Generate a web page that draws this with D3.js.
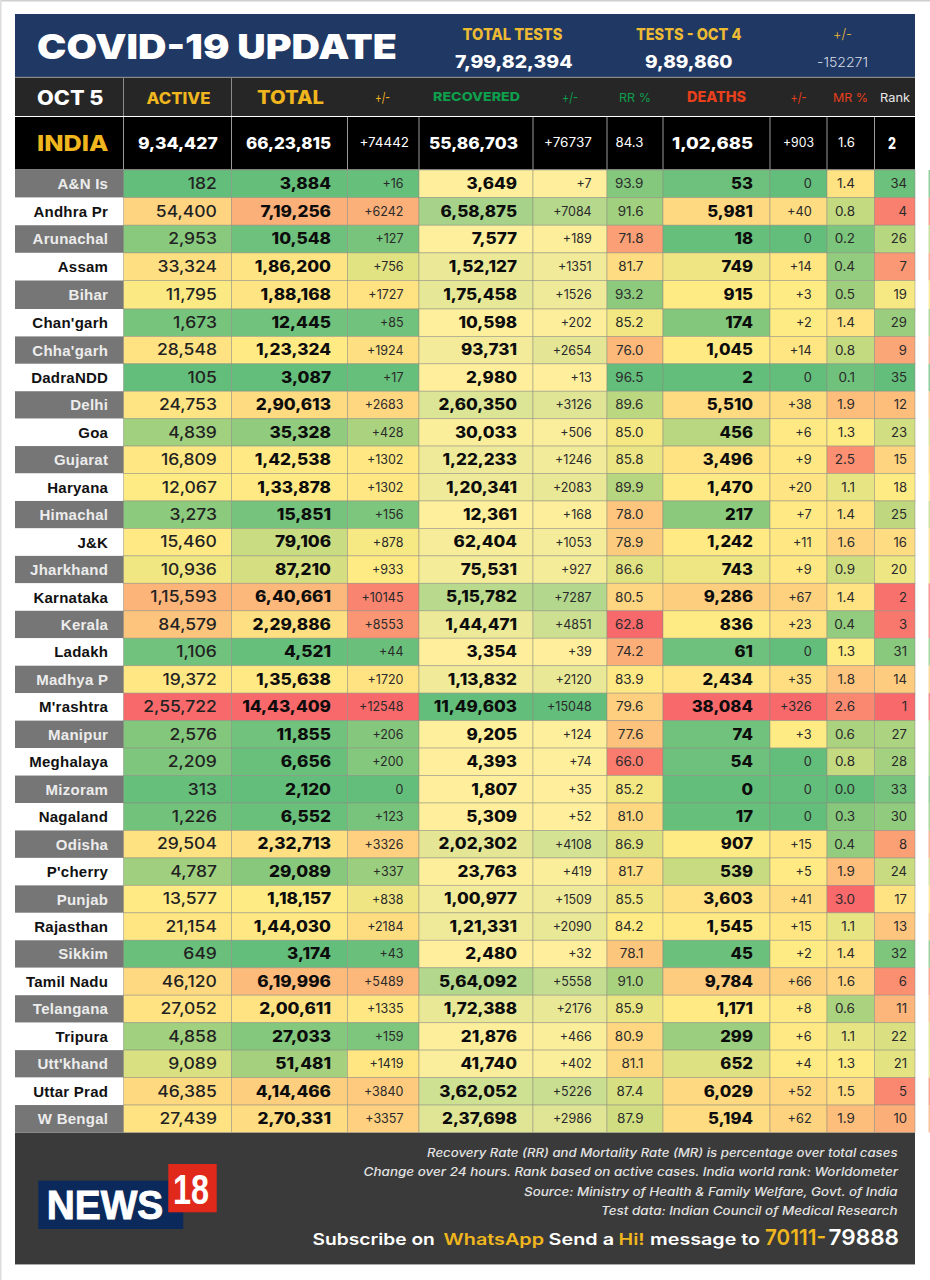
<!DOCTYPE html>
<html><head><meta charset="utf-8">
<script src="https://cdn.jsdelivr.net/npm/d3@7/dist/d3.min.js"></script>
<style>html,body{margin:0;padding:0;background:#fff}svg{display:block}text{font-family:Inter,"Noto Sans",sans-serif}</style>
</head><body><svg id="c" width="930" height="1280"></svg>
<script>
const states=["A&N Is","Andhra Pr","Arunachal","Assam","Bihar","Chan'garh","Chha'garh","DadraNDD","Delhi","Goa","Gujarat","Haryana","Himachal","J&K","Jharkhand","Karnataka","Kerala","Ladakh","Madhya P","M'rashtra","Manipur","Meghalaya","Mizoram","Nagaland","Odisha","P'cherry","Punjab","Rajasthan","Sikkim","Tamil Nadu","Telangana","Tripura","Utt'khand","Uttar Prad","W Bengal"];
const active=[182,54400,2953,33324,11795,1673,28548,105,24753,4839,16809,12067,3273,15460,10936,115593,84579,1106,19372,255722,2576,2209,313,1226,29504,4787,13577,21154,649,46120,27052,4858,9089,46385,27439];
const total=[3884,719256,10548,186200,188168,12445,123324,3087,290613,35328,142538,133878,15851,79106,87210,640661,229886,4521,135638,1443409,11855,6656,2120,6552,232713,29089,118157,144030,3174,619996,200611,27033,51481,414466,270331];
const totalDelta=[16,6242,127,756,1727,85,1924,17,2683,428,1302,1302,156,878,933,10145,8553,44,1720,12548,206,200,0,123,3326,337,838,2184,43,5489,1335,159,1419,3840,3357];
const recovered=[3649,658875,7577,152127,175458,10598,93731,2980,260350,30033,122233,120341,12361,62404,75531,515782,144471,3354,113832,1149603,9205,4393,1807,5309,202302,23763,100977,121331,2480,564092,172388,21876,41740,362052,237698];
const recoveredDelta=[7,7084,189,1351,1526,202,2654,13,3126,506,1246,2083,168,1053,927,7287,4851,39,2120,15048,124,74,35,52,4108,419,1509,2090,32,5558,2176,466,402,5226,2986];
const recoveryRate=[93.9,91.6,71.8,81.7,93.2,85.2,76.0,96.5,89.6,85.0,85.8,89.9,78.0,78.9,86.6,80.5,62.8,74.2,83.9,79.6,77.6,66.0,85.2,81.0,86.9,81.7,85.5,84.2,78.1,91.0,85.9,80.9,81.1,87.4,87.9];
const deaths=[53,5981,18,749,915,174,1045,2,5510,456,3496,1470,217,1242,743,9286,836,61,2434,38084,74,54,0,17,907,539,3603,1545,45,9784,1171,299,652,6029,5194];
const deathsDelta=[0,40,0,14,3,2,14,0,38,6,9,20,7,11,9,67,23,0,35,326,3,0,0,0,15,5,41,15,2,66,8,6,4,52,62];
const mortalityRate=[1.4,0.8,0.2,0.4,0.5,1.4,0.8,0.1,1.9,1.3,2.5,1.1,1.4,1.6,0.9,1.4,0.4,1.3,1.8,2.6,0.6,0.8,0.0,0.3,0.4,1.9,3.0,1.1,1.4,1.6,0.6,1.1,1.3,1.5,1.9];
const rank=[34,4,26,7,19,29,9,35,12,23,15,18,25,16,20,2,3,31,14,1,27,28,33,30,8,24,17,13,32,6,11,22,21,5,10];
const india=[934427,6623815,74442,5586703,76737,84.3,102685,903,1.6,2];

const GREEN="#63BE7B",YEL="#FFEB84",RED="#F8696B",PALE="#FFEF9C",GOLD="#F0B61E";
const inr=d3.formatLocale({decimal:".",thousands:",",grouping:[3,2],currency:["",""]}).format(",");
const delta=v=>v>0?"+"+v:"0", dec=d3.format(".1f"), plain=d3.format("d");
const med3=a=>[d3.min(a),d3.median(a),d3.max(a)];
const hiGood=a=>d3.scaleLinear().domain(med3(a)).range([GREEN,YEL,RED]);
const loGood=a=>d3.scaleLinear().domain(med3(a)).range([RED,YEL,GREEN]);
const two=a=>d3.scaleLinear().domain(d3.extent(a)).range([PALE,GREEN]);

const edges=[15,123.5,231.5,347.5,419,533,607,663,770,827,874.5,915];
const keys=["label","active","total","totalDelta","recovered","recoveredDelta","rr","deaths","deathsDelta","mr","rank"];
const xL=d3.scaleOrdinal(keys,edges.slice(0,-1)), xR=d3.scaleOrdinal(keys,edges.slice(1));
// row edges of the source table are slightly uneven, so the row scale is piecewise
const rowY=d3.scaleLinear().domain([0,4,5,11,states.length]).range([170,280.5,309,473.5,1132.5]);
const yTop=(d,i)=>rowY(i), yH=(d,i)=>rowY(i+1)-rowY(i);

const cols=[
 {k:"active",v:active,f:inr,c:hiGood(active),size:15.5,w:500,sx:1.13,pad:14.6,fill:"#222"},
 {k:"total",v:total,f:inr,c:hiGood(total),size:15.5,w:800,sx:1.11,pad:16.5,fill:"#0c0c0c"},
 {k:"totalDelta",v:totalDelta,f:delta,c:hiGood(totalDelta),size:12.5,w:400,sx:1,pad:15.5,fill:"#2a2a2a"},
 {k:"recovered",v:recovered,f:inr,c:two(recovered),size:15.5,w:800,sx:1.1,pad:16,fill:"#0c0c0c"},
 {k:"recoveredDelta",v:recoveredDelta,f:delta,c:two(recoveredDelta),size:12.5,w:400,sx:1,pad:15.3,fill:"#2a2a2a"},
 {k:"rr",v:recoveryRate,f:dec,c:loGood(recoveryRate),size:12.5,w:400,sx:1.08,pad:19.5,fill:"#2a2a2a"},
 {k:"deaths",v:deaths,f:inr,c:hiGood(deaths),size:15.5,w:800,sx:1.08,pad:17,fill:"#0c0c0c"},
 {k:"deathsDelta",v:deathsDelta,f:delta,c:d3.scaleLinear().domain([0,2,326]).range([GREEN,YEL,RED]),size:12.5,w:400,sx:1.02,pad:15.3,fill:"#2a2a2a"},
 {k:"mr",v:mortalityRate,f:dec,c:hiGood(mortalityRate),size:12.5,w:400,sx:1.08,pad:19.5,fill:"#2a2a2a"},
 {k:"rank",v:rank,f:plain,c:loGood(rank),size:12.5,w:400,sx:1.05,pad:8,fill:"#2a2a2a"}
];

const svg=d3.select("#c");
const rect=(x,y0,w,h,fill)=>svg.append("rect").attr("x",x).attr("y",y0).attr("width",w).attr("height",h).attr("fill",fill);
const txt=(s,x,yy,o={})=>{const t=svg.append("text").attr("x",x).attr("y",yy).text(s)
 .attr("fill",o.fill||"#fff").attr("font-size",o.size||12).attr("font-weight",o.w||400);
 if(o.len){t.attr("textLength",o.len).attr("lengthAdjust","spacingAndGlyphs");}
 if(o.italic)t.attr("font-style","italic");
 return t;};
const span=(s,x0,x1,yy,o)=>txt(s,x0,yy,{...o,len:x1-x0});

// page edges
rect(0,0,930,1.5,"#cfcfcf");rect(0,0,1.5,1280,"#dcdcdc");
// right bleed strip
svg.append("g").selectAll("rect").data(rank).join("rect").attr("x",928.5).attr("width",1.5)
 .attr("y",yTop).attr("height",yH).attr("fill",d=>loGood(rank)(d)).attr("opacity",.75);

// header panels
rect(15,14,900,63,"#1F3864");rect(15,78,900,38,"#262626");rect(15,117,900,52.5,"#000");rect(15,1132.5,900,132,"#3A3A3A");
rect(15,1264,900,1,"#a9a9a9");

// titles
span("COVID-19 UPDATE",37,397,58.5,{size:34.5,w:900});
span("TOTAL TESTS",462.6,562.5,40,{size:16,w:800,fill:"#EDBB33"});
span("7,99,82,394",455,572.5,67.5,{size:17.5,w:800});
span("TESTS - OCT 4",636,741.5,40,{size:16,w:800,fill:"#EDBB33"});
span("9,89,860",645,732.5,67.5,{size:17.5,w:800});
span("+/-",833,852,38.5,{size:14,w:300,fill:"#EDBB33"});
span("-152271",817,868,66.5,{size:13.5,w:300,fill:"#d8dbe3"});

// column head row
[123.5,231.5].forEach(x=>rect(x-.5,78,1,38,"#8a8a8a"));
rect(15,76.8,900,1.2,"#8a8a8a");
span("OCT 5",37,103.5,104.5,{size:20,w:800});
span("ACTIVE",146.5,210.5,103.5,{size:15.5,w:800,fill:GOLD});
span("TOTAL",257,324,104,{size:18.5,w:800,fill:GOLD});
span("+/-",375,390,102,{size:13.5,fill:GOLD});
span("RECOVERED",433,520,101,{size:12,w:800,fill:"#0E9F4D"});
span("+/-",562,578,102,{size:13.5,fill:"#0E9F4D"});
span("RR %",619,651,101.5,{size:11.5,fill:"#0E9F4D"});
span("DEATHS",687,746,102,{size:14.5,w:800,fill:"#E8401C"});
span("+/-",790.6,806.6,102,{size:13.5,fill:"#E8401C"});
span("MR %",833,868,101.5,{size:11.5,fill:"#E8401C"});
span("Rank",880,910,101.5,{size:11.5,fill:"#e6e6e6"});

// India row
keys.slice(0,-1).forEach(k=>{rect(xR(k)-.5,117,1,52.5,"#9a9a9a");});
span("INDIA",37,108.5,151,{size:22,w:800,fill:GOLD});
const indiaText=[inr,inr,delta,inr,delta,dec,inr,delta,dec,plain];
const indiaPos=[[138,217.7,1],[246,331,1],[359.4,409,0],[429,518,1],[544,592,0],[615.6,643.5,0],[672,753,1],[783,814,0],[838,855,0],[888,896,1]];
india.forEach((v,i)=>{const p=indiaPos[i];span(indiaText[i](v),p[0],p[1],p[2]?148.8:147,{size:p[2]?16:12.5,w:p[2]?800:400});});

// state labels
const labelX=xR("label")-15.3;
svg.append("g").selectAll("rect").data(states).join("rect").attr("x",xL("label")).attr("width",xR("label")-xL("label")+.5)
 .attr("y",yTop).attr("height",yH).attr("fill",(d,i)=>i%2?"#fff":"#767676");
svg.append("g").selectAll("text").data(states).join("text").attr("x",labelX).attr("y",(d,i)=>rowY(i)+19.2)
 .attr("text-anchor","end").attr("font-size",15).attr("font-weight",700).attr("letter-spacing",.25)
 .style("font-family","'Liberation Sans',Arial,sans-serif").attr("fill",(d,i)=>i%2?"#111":"#ececec").text(d=>d);

// data cells
cols.forEach(col=>{
 const g=svg.append("g");
 const x0=xL(col.k),x1=xR(col.k),right=x1-col.pad;
 g.selectAll("rect").data(col.v).join("rect").attr("x",x0).attr("width",x1-x0)
  .attr("y",yTop).attr("height",yH)
  .attr("fill",d=>col.c(d)).attr("stroke","rgba(140,140,130,.6)").attr("stroke-width",.8);
 const big=col.size>14;
 g.selectAll("text").data(col.v).join("text").attr("text-anchor","end")
  .attr("transform",(d,i)=>`translate(${right},${rowY(i)+(big?19:18.2)}) scale(${col.sx},1)`)
  .attr("font-size",col.size).attr("font-weight",col.w).attr("fill",col.fill).text(d=>col.f(d));
});

// logo
rect(38.3,1180.7,145,48.3,"#0B2A5B");rect(168.3,1164,48.4,48.3,"#E1291B");
svg.append("text").attr("x",46.7).attr("y",1219).attr("font-size",40).attr("font-weight",700).attr("fill","#fff")
 .attr("stroke","#fff").attr("stroke-width",.9)
 .attr("textLength",116.6).attr("lengthAdjust","spacingAndGlyphs").style("font-family","'Liberation Sans',Arial").text("NEWS");
svg.append("text").attr("x",173).attr("y",1204).attr("font-size",42).attr("font-weight",700).attr("fill","#fff")
 .attr("textLength",36).attr("lengthAdjust","spacingAndGlyphs").style("font-family","'Liberation Sans',Arial").text("18");

// footer notes
const noteO={size:11.5,w:500,fill:"#e2e2e2",italic:true};
span("Recovery Rate (RR) and Mortality Rate (MR) is percentage over total cases",427,897.5,1157,noteO);
span("Change over 24 hours. Rank based on active cases. India world rank: Worldometer",363.6,898,1176,noteO);
span("Source: Ministry of Health & Family Welfare, Govt. of India",524,897.5,1196,noteO);
span("Test data: Indian Council of Medical Research",601,897.5,1215,noteO);
const subO={size:16,w:600};
span("Subscribe on",312.6,434.8,1244.5,subO);
span("WhatsApp",443.6,544,1244.5,{...subO,fill:GOLD});
span("Send a",548.6,614,1244.5,subO);
span("Hi!",618.6,644.7,1244.5,{...subO,fill:GOLD});
span("message to",650,760,1244.5,subO);
span("70111-",765,826,1244.5,{size:22,w:600,fill:GOLD});
span("79888",828.6,899,1244.5,{size:22,w:600});
</script></body></html>
